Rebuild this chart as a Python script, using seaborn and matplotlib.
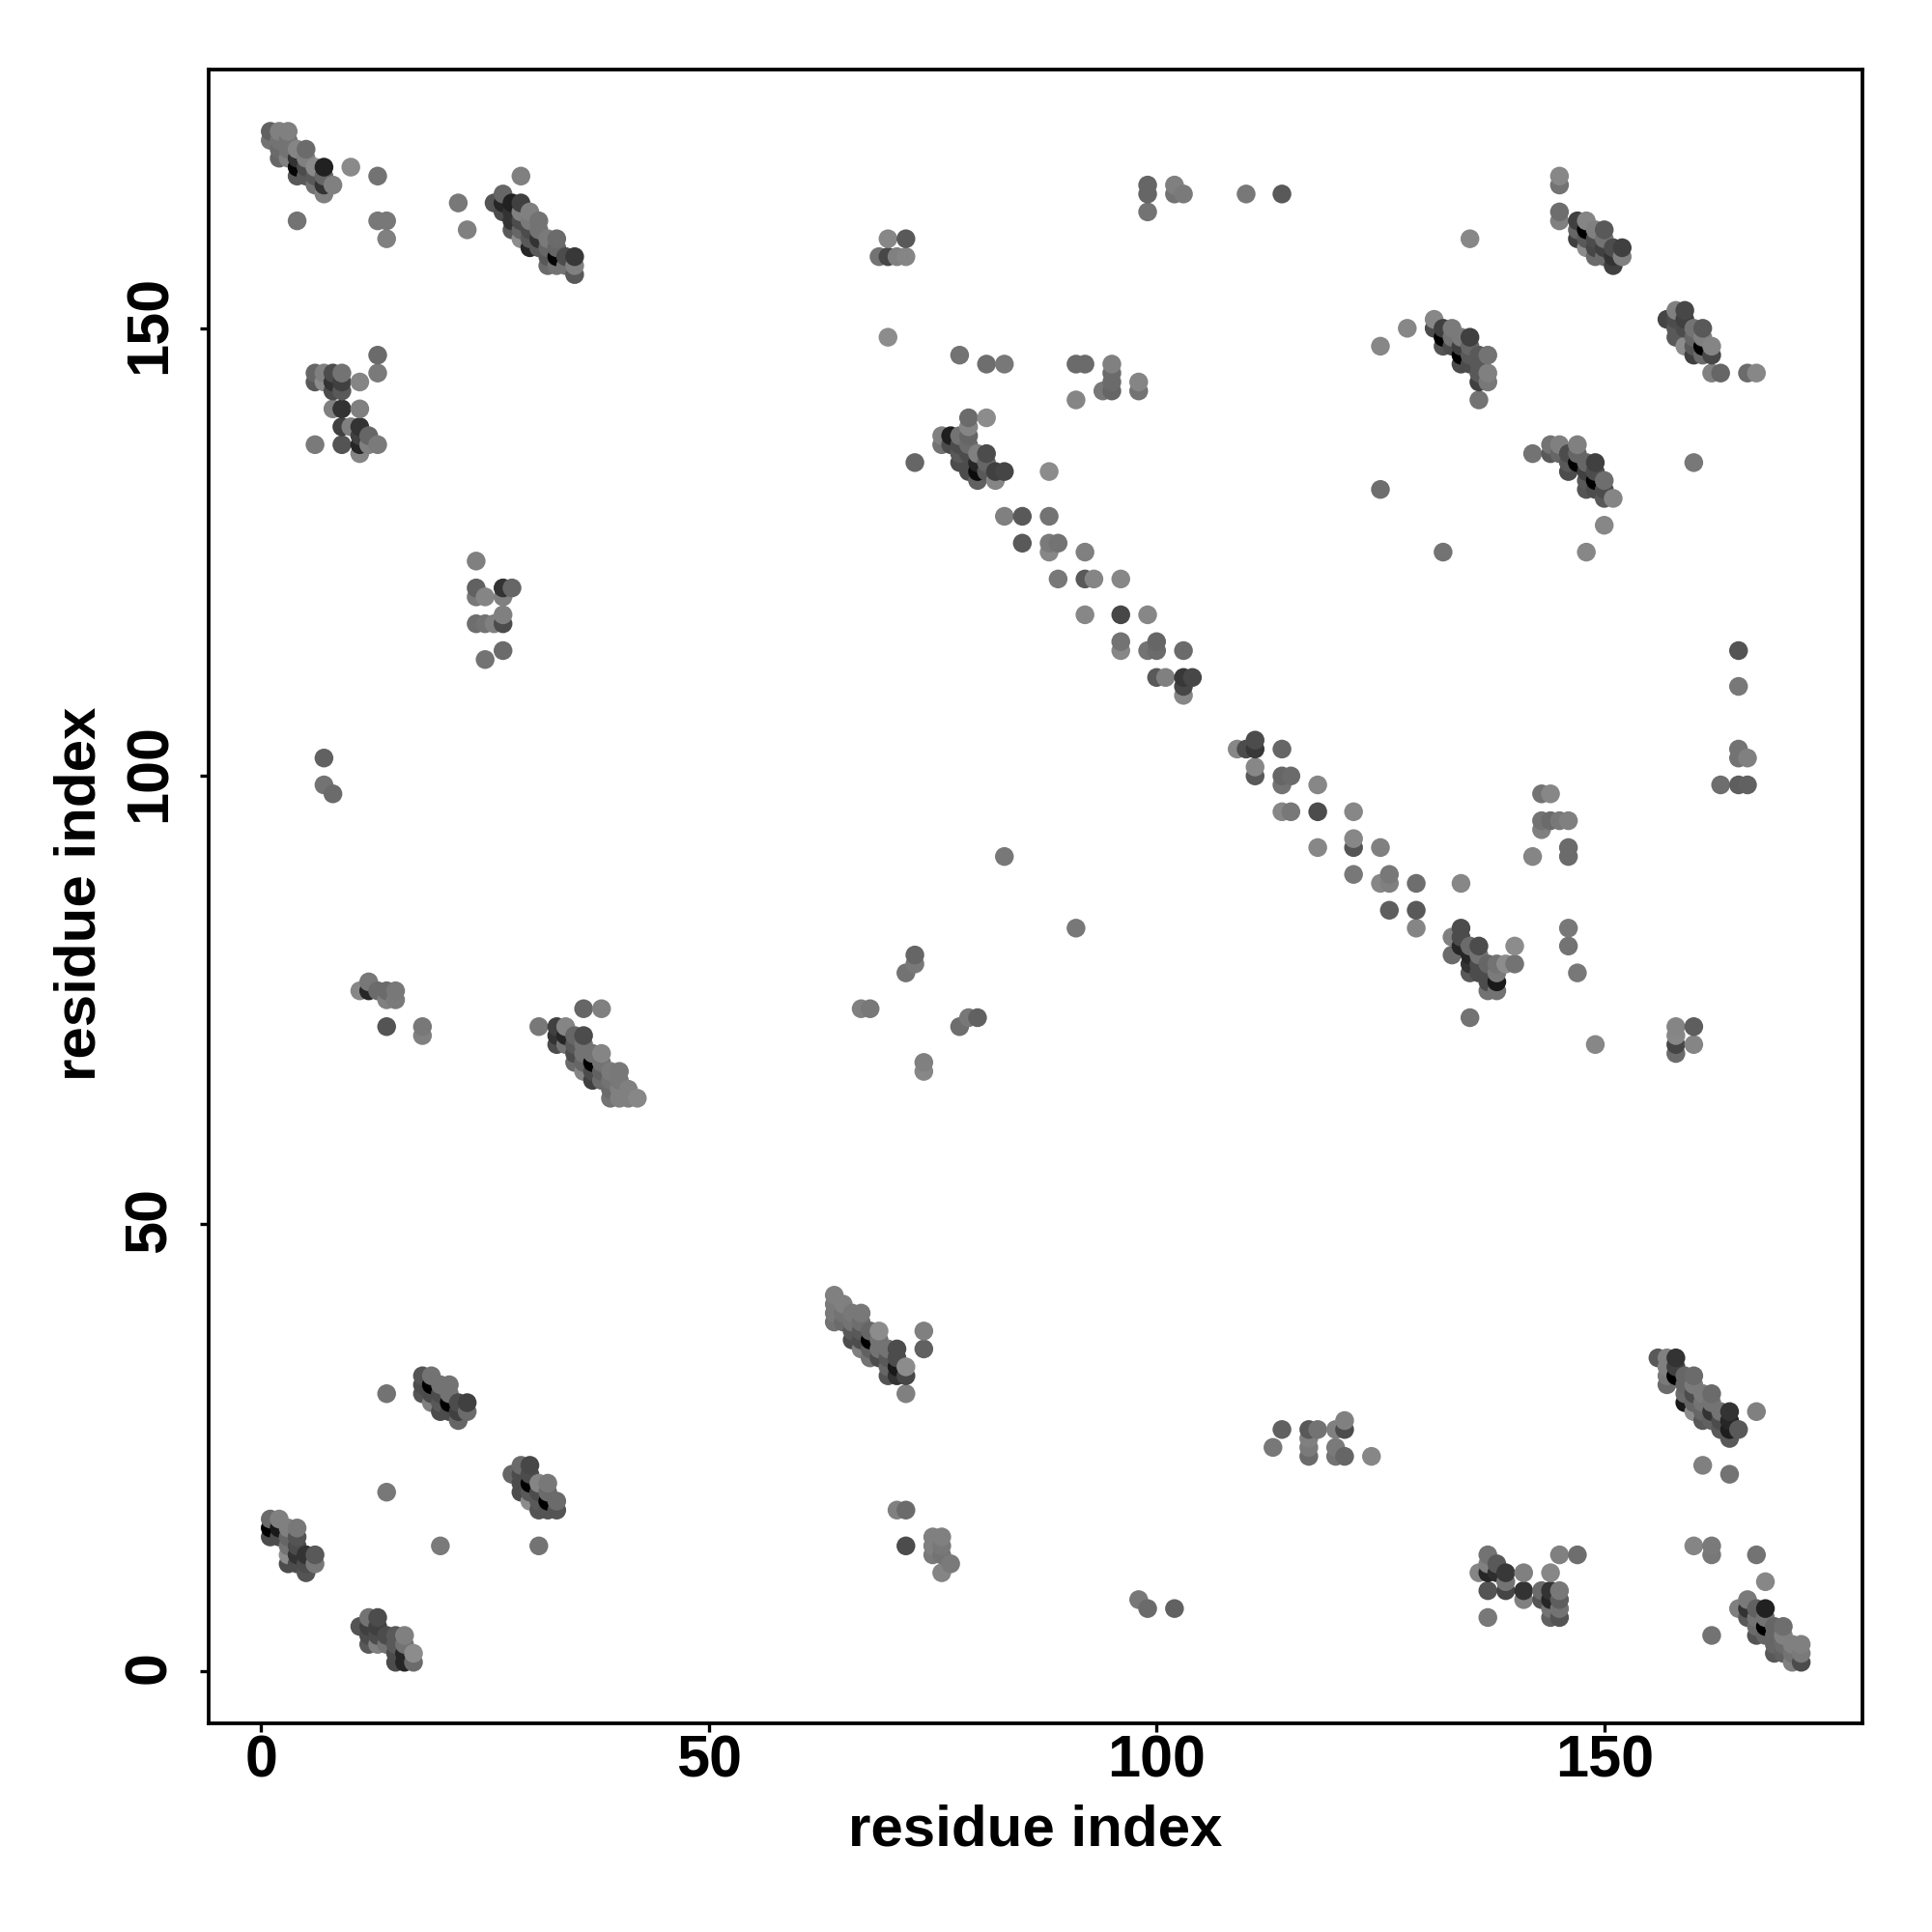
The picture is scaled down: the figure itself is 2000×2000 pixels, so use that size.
import pandas as pd
import matplotlib
matplotlib.use('Agg')
import matplotlib.pyplot as plt
from matplotlib.transforms import ScaledTranslation
import seaborn as sns

# contacts: (residue i, residue j, grey level of the dot)
blob_top_left = [(1,171,.45),(1,172,.38),(2,169,.4),(2,170,.42),(2,171,.45),(2,172,.5),(3,169,.5),(3,170,.45),(3,171,.45),(3,172,.5),
                 (4,167,.35),(4,168,.02),(4,169,.2),(4,170,.52),(5,167,.35),(5,168,.3),(5,169,.5),(5,170,.42),(6,166,.45),(6,167,.35),
                 (6,168,.54),(7,165,.5),(7,166,.2),(7,167,.4),(7,168,.13),(8,166,.5)]
blob_26_35 = [(26,164,.33),(27,163,.3),(27,164,.15),(27,165,.4),(28,161,.35),(28,162,.2),(28,163,.2),(28,164,.13),(29,160,.55),(29,161,.4),
              (29,162,.3),(29,163,.5),(29,164,.25),(30,159,.15),(30,160,.35),(30,161,.3),(30,162,.48),(30,163,.5),(31,159,.35),(31,160,.2),
              (31,161,.45),(31,162,.45),(32,157,.42),(32,158,.35),(32,159,.4),(32,160,.48),(33,157,.45),(33,158,.02),(33,159,.4),(33,160,.42),
              (34,157,.45),(34,158,.3),(35,156,.35),(35,157,.5),(35,158,.22)]
blob_6_13 = [(6,144,.35),(6,145,.4),(7,144,.55),(7,145,.5),(8,141,.5),(8,143,.3),(8,144,.2),(8,145,.3),(9,137,.33),(9,139,.25),
             (9,141,.2),(9,143,.35),(9,144,.25),(9,145,.45),(10,139,.5),(11,136,.52),(11,137,.15),(11,138,.25),(11,139,.2),(11,141,.5),
             (11,144,.52),(12,137,.5),(12,138,.4),(13,137,.48),(13,145,.48),(13,147,.42),(6,137,.48)]
top_middle = [(99,163,.45),(99,165,.4),(99,166,.4),(102,165,.45),(102,166,.5),(103,165,.48),(110,165,.47),(114,165,.35),
              (69,158,.45),(70,158,.28),(70,160,.53),(71,158,.5),(72,158,.52),(72,160,.35),(70,149,.55),
              (78,147,.45),(81,146,.43),(83,146,.47),(91,146,.42),(92,146,.42),(91,142,.52),(94,143,.47),
              (95,143,.4),(95,144,.42),(95,145,.42),(95,146,.5),(98,143,.45),(98,144,.52)]
blob_76_83 = [(73,135,.4),(76,137,.45),(76,138,.5),(77,137,.3),(77,138,.12),(78,135,.3),(78,136,.35),(78,137,.3),(78,138,.45),(79,134,.3),
              (79,136,.3),(79,137,.42),(79,138,.4),(79,139,.52),(79,140,.42),(80,133,.38),(80,134,.05),(80,135,.15),(80,136,.5),(81,134,.35),
              (81,135,.4),(81,136,.3),(81,140,.55),(82,133,.52),(82,134,.25),(83,134,.27),(88,134,.55)]
long_diagonal = [(83,129,.5),(85,129,.35),(88,129,.45),(85,126,.35),(88,125,.53),(88,126,.48),(89,126,.45),(92,125,.5),(89,122,.47),(92,122,.35),
                 (93,122,.52),(96,122,.53),(92,118,.53),(96,118,.28),(99,118,.53),(96,114,.53),(96,115,.45),(99,114,.45),(100,114,.42),(100,115,.4),
                 (103,114,.42),(100,111,.35),(101,111,.5),(103,109,.53),(103,110,.28),(103,111,.22),(104,111,.28),(109,103,.53),(110,103,.3),(111,103,.22),
                 (111,104,.3),(114,103,.4),(111,100,.35),(111,101,.53),(114,99,.45),(114,100,.4),(115,100,.42),(118,99,.53),(114,96,.53),(115,96,.47),
                 (118,96,.3),(122,96,.53),(118,92,.53),(122,92,.33),(122,93,.53),(125,92,.5),(122,89,.47),(125,88,.53),(126,88,.5),(126,89,.47),
                 (129,88,.43),(126,85,.37),(129,85,.35),(129,83,.52),(83,91,.47),(91,83,.47),(134,88,.53)]
blob_133_140 = [(133,80,.42),(133,82,.5),(134,81,.15),(134,82,.3),(134,83,.3),(135,73,.45),(135,78,.35),(135,79,.2),(135,80,.15),(135,81,.42),
                (136,78,.3),(136,79,.3),(136,80,.45),(136,81,.3),(137,76,.45),(137,77,.3),(137,79,.4),(138,76,.45),(138,77,.1),(138,78,.48),
                (138,79,.45),(139,79,.55),(140,79,.45),(140,81,.55)]
right_middle = [(142,91,.52),(143,94,.5),(143,95,.45),(143,98,.45),(144,95,.42),(144,98,.53),(145,95,.47),(146,91,.42),(146,92,.42),(146,95,.5),
                (146,81,.45),(146,83,.47),(147,78,.47),(163,99,.43),(165,99,.37),(165,102,.45),(165,103,.45),(165,110,.47),(165,114,.33),(166,99,.38),
                (166,102,.5),(149,70,.53),(158,69,.42),(158,70,.27),(158,71,.53),(158,72,.52),(160,70,.52),(160,72,.37)]
top_right_single = [(145,162,.5),(145,163,.43),(145,166,.45),(145,167,.53),(135,160,.53),(128,150,.53),(125,148,.53),(125,132,.43),(132,125,.45),
                    (148,125,.53),(150,128,.53),(160,135,.47),(162,145,.5),(163,145,.4),(166,145,.42),(167,145,.53)]
blob_147_152 = [(147,160,.25),(147,161,.4),(147,162,.25),(148,159,.55),(148,160,.35),(148,161,.0),(148,162,.52),(149,158,.42),(149,159,.28),(149,160,.3),
                (149,161,.5),(150,158,.42),(150,159,.25),(150,160,.45),(150,161,.35),(151,157,.25),(151,158,.2),(151,159,.3),(152,158,.5),(152,159,.25)]
blob_131_137 = [(131,150,.3),(131,151,.53),(132,148,.33),(132,149,.0),(132,150,.25),(133,148,.3),(133,149,.45),(133,150,.48),(134,146,.3),(134,147,.0),
                (134,148,.25),(134,149,.48),(135,146,.3),(135,147,.35),(135,148,.4),(135,149,.25),(136,142,.45),(136,144,.25),(136,145,.35),(136,146,.35),
                (136,147,.35),(137,144,.47),(137,145,.5),(137,147,.45)]
blob_157_162 = [(157,151,.27),(158,149,.35),(158,150,.35),(158,151,.3),(158,152,.5),(159,148,.55),(159,150,.3),(159,151,.25),(159,152,.28),(160,147,.25),
                (160,148,.35),(160,149,.4),(160,150,.45),(161,147,.42),(161,148,.0),(161,149,.5),(161,150,.35),(162,147,.28),(162,148,.52)]
blob_142_151 = [(142,136,.45),(144,136,.35),(144,137,.45),(145,136,.4),(145,137,.5),(146,134,.3),(146,135,.35),(146,136,.3),(147,135,.0),(147,136,.4),
                (147,137,.5),(148,132,.33),(148,133,.35),(148,134,.25),(148,135,.4),(149,132,.3),(149,133,.0),(149,134,.3),(149,135,.25),(150,131,.35),
                (150,132,.3),(150,133,.43),(151,131,.52)]
blob_left_76 = [(11,76,.53),(12,76,.15),(12,77,.47),(13,76,.42),(14,72,.33),(14,75,.5),(14,76,.42),(15,75,.48),(15,76,.47),(18,71,.5),(18,72,.47)]
blob_31_42 = [(31,72,.47),(33,70,.3),(33,71,.2),(33,72,.25),(34,70,.45),(34,71,.15),(34,72,.52),(35,68,.42),(35,69,.3),(35,70,.35),
              (35,71,.4),(36,67,.52),(36,68,.4),(36,69,.45),(36,70,.45),(36,71,.3),(36,74,.4),(37,66,.25),(37,67,.3),(37,68,.0),
              (37,69,.45),(38,66,.42),(38,67,.38),(38,68,.45),(38,69,.52),(38,74,.5),(39,64,.45),(39,65,.42),(39,66,.45),(39,67,.48),
              (40,64,.5),(40,65,.5),(40,66,.47),(40,67,.47),(41,64,.5),(41,65,.5),(42,64,.53)]
middle_scatter = [(72,78,.45),(73,79,.47),(73,80,.4),(67,74,.5),(68,74,.47),(78,72,.43),(79,73,.47),(80,73,.38),(74,67,.53),(74,68,.5)]
blob_64_72 = [(64,39,.45),(64,40,.48),(64,41,.48),(64,42,.5),(65,39,.42),(65,40,.45),(65,41,.5),(66,37,.3),(66,38,.35),(66,39,.45),
              (66,40,.47),(67,36,.5),(67,37,.3),(67,38,.35),(67,39,.43),(67,40,.47),(68,35,.45),(68,36,.38),(68,37,.0),(68,38,.4),
              (69,35,.3),(69,36,.45),(69,37,.45),(69,38,.55),(70,33,.33),(70,34,.4),(70,35,.35),(70,36,.45),(71,33,.2),(71,34,.1),
              (71,35,.3),(71,36,.3),(72,31,.5),(72,33,.28),(72,34,.55),(74,36,.38),(74,38,.5)]
lower_left_single = [(14,31,.45),(14,20,.47),(20,14,.48),(31,14,.45),(7,102,.38),(7,99,.45),(8,98,.42)]
blob_18_23 = [(18,31,.33),(18,32,.3),(18,33,.33),(19,30,.5),(19,31,.3),(19,32,.0),(19,33,.45),(20,29,.3),(20,30,.35),(20,31,.3),
              (20,32,.45),(21,29,.3),(21,30,.0),(21,31,.45),(21,32,.45),(22,28,.4),(22,29,.25),(22,30,.3),(23,29,.42),(23,30,.25)]
blob_28_33 = [(28,22,.4),(29,20,.3),(29,21,.3),(29,22,.3),(29,23,.42),(30,19,.55),(30,20,.35),(30,21,.0),(30,22,.3),(30,23,.28),
              (31,18,.33),(31,19,.35),(31,20,.3),(31,21,.52),(32,18,.33),(32,19,.0),(32,20,.42),(32,21,.47),(33,18,.33),(33,19,.42)]
blob_1_6 = [(1,15,.3),(1,16,.0),(1,17,.42),(2,15,.3),(2,16,.1),(2,17,.5),(3,12,.3),(3,13,.55),(3,14,.45),(3,15,.4),
            (3,16,.5),(4,12,.3),(4,13,.2),(4,14,.3),(4,15,.33),(4,16,.47),(5,11,.33),(5,12,.3),(5,13,.2),(6,12,.47),(6,13,.35)]
blob_11_17 = [(11,5,.33),(12,3,.35),(12,4,.3),(12,5,.25),(12,6,.45),(13,3,.5),(13,4,.3),(13,5,.25),(13,6,.3),(14,3,.45),
              (14,4,.3),(15,1,.3),(15,2,.3),(15,3,.35),(15,4,.35),(16,1,.15),(16,2,.15),(16,3,.45),(16,4,.5),(17,1,.42),(17,2,.55)]
blob_156_167 = [(156,35,.35),(157,32,.42),(157,33,.48),(157,34,.5),(157,35,.5),(158,33,.0),(158,34,.25),(158,35,.2),(159,30,.1),(159,31,.42),
                (159,32,.4),(159,33,.4),(160,29,.55),(160,30,.4),(160,31,.3),(160,32,.48),(160,33,.42),(161,28,.35),(161,29,.4),(161,30,.45),
                (161,31,.48),(162,28,.38),(162,29,.2),(162,30,.45),(162,31,.42),(163,27,.35),(163,28,.3),(163,29,.45),(164,26,.35),(164,27,.12),
                (164,28,.15),(164,29,.2),(165,27,.35),(167,29,.5),(161,23,.5),(164,22,.45),(124,24,.53)]
blob_136_147 = [(136,11,.52),(137,6,.47),(137,9,.33),(137,11,.15),(137,12,.5),(137,13,.45),(138,11,.18),(138,12,.35),(139,9,.27),(139,10,.45),
                (139,11,.22),(141,8,.5),(141,9,.2),(141,11,.5),(143,8,.33),(143,9,.42),(144,6,.38),(144,7,.45),(144,8,.15),(144,9,.2),
                (144,11,.53),(145,6,.33),(145,7,.45),(145,8,.37),(145,9,.47),(145,13,.5),(147,13,.43)]
blob_165_172 = [(160,14,.52),(162,4,.45),(162,13,.47),(162,14,.48),(167,13,.45),(168,10,.53),(165,7,.5),(166,6,.35),(166,7,.2),(166,8,.48),
                (167,4,.33),(167,5,.42),(167,6,.45),(167,7,.38),(168,4,.4),(168,5,.0),(168,6,.45),(168,7,.13),(169,2,.35),(169,3,.4),
                (169,4,.4),(169,5,.4),(170,2,.38),(170,3,.42),(170,4,.5),(170,5,.43),(171,1,.5),(171,2,.45),(171,3,.5),(172,1,.3),
                (172,2,.48),(172,3,.5)]
lower_middle = [(113,25,.47),(114,27,.38),(117,24,.42),(117,25,.48),(117,26,.5),(117,27,.35),(118,27,.45),(120,24,.45),(120,25,.48),(120,27,.5),
                (121,24,.4),(121,27,.3),(121,28,.5),(71,18,.5),(72,18,.42),(72,14,.3),(75,13,.48),(75,14,.5),(75,15,.5),(76,11,.52),
                (76,13,.45),(76,14,.47),(76,15,.5),(77,12,.48),(98,8,.47),(99,7,.42),(102,7,.38)]
blob_24_28 = [(24,117,.43),(24,120,.47),(24,121,.38),(24,124,.5),(25,113,.45),(25,117,.45),(25,120,.52),(26,117,.5),(27,114,.42),(27,117,.3),
              (27,118,.5),(27,120,.5),(27,121,.2),(28,121,.4)]
lone_dots = [(4,162,.45),(10,168,.54),(13,167,.45),(13,162,.47),(14,162,.47),(14,160,.5),(22,164,.47),(23,161,.5),(29,167,.5)]

all_groups = [blob_top_left, blob_26_35, blob_6_13, top_middle, blob_76_83, long_diagonal, blob_133_140, right_middle,
              top_right_single, blob_147_152, blob_131_137, blob_157_162, blob_142_151, blob_left_76, blob_31_42,
              middle_scatter, blob_64_72, lower_left_single, blob_18_23, blob_28_33, blob_1_6, blob_11_17, blob_156_167,
              blob_136_147, blob_165_172, lower_middle, blob_24_28, lone_dots]
axis_ticks = [0, 50, 100, 150]

rows = [row for group in all_groups for row in group]
df = pd.DataFrame(rows, columns=['i', 'j', 'grey'])
# R filled the matrix column by column, later dots sit on top
df = df.sort_values(['i', 'j']).reset_index(drop=True)

sns.set_style('white')
plt.rcParams['font.family'] = ['Liberation Sans', 'DejaVu Sans']
plt.rcParams['font.weight'] = 'bold'

fig = plt.figure(figsize=(10, 10), dpi=200)
ax = fig.add_axes([0.108, 0.108, 0.856, 0.856])

sns.scatterplot(
    data=df, x='i', y='j', hue='grey',
    palette=sns.color_palette('gray', as_cmap=True), hue_norm=(0, 1),
    s=49, linewidth=0, legend=False, ax=ax
)

ax.set_xlim(-5.88, 178.84)
ax.set_ylim(-5.82, 178.90)
ax.set_xticks(axis_ticks)
ax.set_yticks(axis_ticks)
ax.tick_params(axis='both', direction='out', length=3.4, width=1.2, color='black',
               labelsize=22, labelcolor='black', bottom=True, left=True)
ax.tick_params(axis='x', pad=0.6)
ax.tick_params(axis='y', pad=8)
plt.setp(ax.get_yticklabels(), rotation=90, va='center')
# rotated labels sit a little low, nudge them up
nudge = ScaledTranslation(0, 1.3 / 72, fig.dpi_scale_trans)
for label in ax.get_yticklabels():
    label.set_transform(label.get_transform() + nudge)
ax.set_xlabel('residue index', fontsize=21.6, fontweight='bold', color='black', labelpad=5.6)
ax.set_ylabel('residue index', fontsize=21.6, fontweight='bold', color='black', labelpad=6, y=0.5015)
for spine in ax.spines.values():
    spine.set_color('black')
    spine.set_linewidth(1.35)

fig.savefig('out.png', dpi=200)
